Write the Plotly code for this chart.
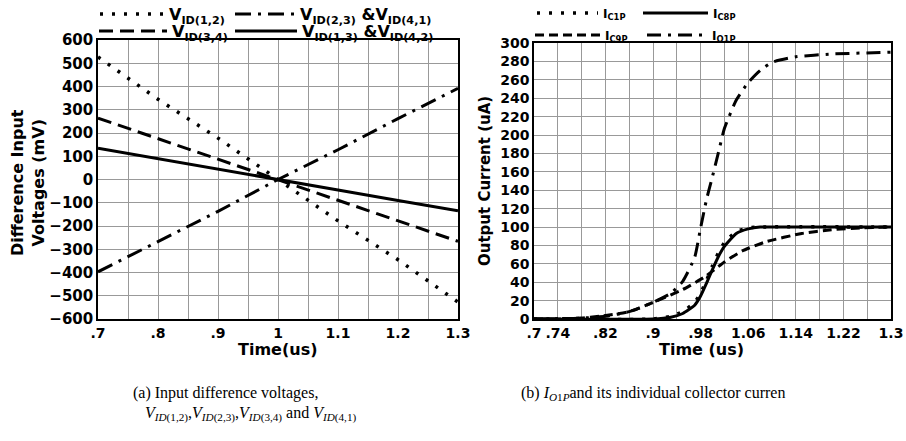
import plotly.graph_objects as go

W, H = 906, 441

# ---------------- Left panel data (a) ----------------
t_left = [0.7, 0.8, 0.9, 1.0, 1.1, 1.2, 1.3]
v_id12 = [527, 345, 178, 0, -178, -345, -527]
v_id23 = [-397, -268, -137, 0, 128, 262, 392]
v_id34 = [264, 176, 88, 0, -88, -177, -266]
v_id13 = [134, 90, 45, 0, -45, -90, -134]

left_xticks = [0.7, 0.8, 0.9, 1.0, 1.1, 1.2, 1.3]
left_xlabels = [".7", ".8", ".9", "1", "1.1", "1.2", "1.3"]
left_yticks = [-600, -500, -400, -300, -200, -100, 0, 100, 200, 300, 400, 500, 600]

# ---------------- Right panel data (b) ----------------
t_o1p = [0.7, 0.78, 0.82, 0.86, 0.9, 0.93, 0.95, 0.97, 0.98, 0.99, 1.0, 1.01, 1.02,
         1.04, 1.06, 1.08, 1.1, 1.14, 1.2, 1.3]
i_o1p = [0, 1, 3, 8, 18, 28, 41, 67, 99, 130, 155, 181, 207,
         238, 257, 270, 279, 285, 288, 290]

t_c8p = [0.7, 0.9, 0.93, 0.95, 0.97, 0.98, 0.99, 1.0, 1.01, 1.02, 1.04, 1.06, 1.08, 1.1, 1.3]
i_c8p = [0, 0, 2, 6, 15, 25, 39, 54, 68, 79, 93, 98, 100, 100, 100]

t_c1p = [0.7, 0.9, 0.93, 0.95, 0.97, 0.98, 0.99, 1.0, 1.01, 1.02, 1.04, 1.06, 1.08, 1.3]
i_c1p = [0, 0, 3, 8, 18, 28, 42, 58, 72, 83, 95, 99, 100, 100]

t_c9p = [0.7, 0.78, 0.81, 0.86, 0.9, 0.95, 0.985, 1.0, 1.02, 1.05, 1.09, 1.15, 1.2, 1.25, 1.3]
i_c9p = [0, 1, 3, 8, 18, 32, 45, 52, 62, 74, 84, 93, 97, 99, 100]

right_xticks = [0.7, 0.74, 0.82, 0.9, 0.98, 1.06, 1.14, 1.22, 1.3]
right_xlabels = [".7", ".74", ".82", ".9", ".98", "1.06", "1.14", "1.22", "1.3"]
right_yticks = [0, 20, 40, 60, 80, 100, 120, 140, 160, 180, 200, 220, 240, 260, 280, 300]

SANS = "DejaVu Sans"
SERIF = "Liberation Serif, Times New Roman"
GRID = "#999999"


def px(x):
    return x / W


def py(y):
    return 1 - y / H


fig = go.Figure()

# left traces
fig.add_trace(go.Scatter(x=t_left, y=v_id12, mode="lines", xaxis="x", yaxis="y",
                         name="V<sub>ID(1,2)</sub>", legend="legend",
                         line=dict(color="black", width=3.5, dash="3px,9px")))
fig.add_trace(go.Scatter(x=t_left, y=v_id23, mode="lines", xaxis="x", yaxis="y",
                         name="V<sub>ID(2,3)</sub> &V<sub>ID(4,1)</sub>", legend="legend2",
                         line=dict(color="black", width=3, dash="16px,7px,3px,7px")))
fig.add_trace(go.Scatter(x=t_left, y=v_id34, mode="lines", xaxis="x", yaxis="y",
                         name="V<sub>ID(3,4)</sub>", legend="legend3",
                         line=dict(color="black", width=3, dash="14px,7px")))
fig.add_trace(go.Scatter(x=t_left, y=v_id13, mode="lines", xaxis="x", yaxis="y",
                         name="V<sub>ID(1,3)</sub> &V<sub>ID(4,2)</sub>", legend="legend4",
                         line=dict(color="black", width=3)))

# right traces
fig.add_trace(go.Scatter(x=t_c9p, y=i_c9p, mode="lines", xaxis="x2", yaxis="y2",
                         name="I<sub>C9P</sub>", legend="legend7",
                         line=dict(color="black", width=3, dash="9px,5px",
                                   shape="spline", smoothing=0.5)))
fig.add_trace(go.Scatter(x=t_o1p, y=i_o1p, mode="lines", xaxis="x2", yaxis="y2",
                         name="I<sub>O1P</sub>", legend="legend8",
                         line=dict(color="black", width=3, dash="14px,7px,3px,7px",
                                   shape="spline", smoothing=0.5)))
fig.add_trace(go.Scatter(x=t_c8p, y=i_c8p, mode="lines", xaxis="x2", yaxis="y2",
                         name="I<sub>C8P</sub>", legend="legend6",
                         line=dict(color="black", width=3, shape="spline", smoothing=0.5)))
fig.add_trace(go.Scatter(x=t_c1p, y=i_c1p, mode="lines", xaxis="x2", yaxis="y2",
                         name="I<sub>C1P</sub>", legend="legend5",
                         line=dict(color="black", width=3.5, dash="3px,9px",
                                   shape="spline", smoothing=0.5)))


def leg(xp, yp, iw, size):
    return dict(x=px(xp), y=py(yp), xanchor="left", yanchor="middle", orientation="h",
                itemwidth=iw, bgcolor="rgba(0,0,0,0)", borderwidth=0,
                font=dict(family=SANS, size=size, color="black", weight="bold"))


axis_common = dict(showline=True, mirror=True, linecolor="black", linewidth=1.5,
                   ticks="", zeroline=False, showgrid=True, gridcolor=GRID, gridwidth=1,
                   automargin=False)

fig.update_layout(
    width=W, height=H,
    margin=dict(l=0, r=0, t=0, b=0, autoexpand=False),
    paper_bgcolor="white", plot_bgcolor="white",
    showlegend=True,
    xaxis=dict(domain=[px(98), px(458)], range=[0.7, 1.3], anchor="y",
               tickmode="array", tickvals=left_xticks, ticktext=left_xlabels,
               tickfont=dict(family=SANS, size=14, color="black", weight="bold"),
               minor=dict(tickmode="linear", tick0=0.7, dtick=0.05, showgrid=True,
                          gridcolor=GRID, gridwidth=1),
               **axis_common),
    yaxis=dict(domain=[py(319), py(40)], range=[-600, 600], anchor="x",
               tickmode="array", tickvals=left_yticks,
               tickfont=dict(family=SANS, size=15, color="black", weight="bold"),
               **axis_common),
    xaxis2=dict(domain=[px(534), px(891)], range=[0.7, 1.3], anchor="y2",
                tickmode="array", tickvals=right_xticks, ticktext=right_xlabels,
                tickfont=dict(family=SANS, size=14, color="black", weight="bold"),
                minor=dict(tickmode="linear", tick0=0.7, dtick=0.04, showgrid=True,
                           gridcolor=GRID, gridwidth=1),
                **axis_common),
    yaxis2=dict(domain=[py(319), py(43)], range=[0, 300], anchor="x2",
                tickmode="array", tickvals=right_yticks,
                tickfont=dict(family=SANS, size=14, color="black", weight="bold"),
                **axis_common),
    legend=leg(95, 14, 64, 16),
    legend2=leg(230, 14, 60, 16),
    legend3=leg(94, 31, 68, 16),
    legend4=leg(230, 31, 62, 16),
    legend5=leg(532, 13, 61, 12),
    legend6=leg(638, 13, 65, 12),
    legend7=leg(530, 35, 65, 12),
    legend8=leg(642, 35, 60, 12),
)

annos = [
    dict(text="Difference Input<br>Voltages (mV)", x=px(28), y=py(183), textangle=-90,
         font=dict(family=SANS, size=16, color="black", weight="bold")),
    dict(text="Output Current (uA)", x=px(485), y=py(181), textangle=-90,
         font=dict(family=SANS, size=15, color="black", weight="bold")),
    dict(text="Time(us)", x=px(277), y=py(349),
         font=dict(family=SANS, size=16, color="black", weight="bold")),
    dict(text="Time (us)", x=px(701), y=py(349),
         font=dict(family=SANS, size=16, color="black", weight="bold")),
]
for a in annos:
    fig.add_annotation(xref="paper", yref="paper", showarrow=False,
                       xanchor="center", yanchor="middle", **a)

cap_font = dict(family=SERIF, size=16, color="black")
fig.add_annotation(xref="paper", yref="paper", showarrow=False, xanchor="left", yanchor="middle",
                   x=px(131), y=py(393), text="(a) Input difference voltages,", font=cap_font)
fig.add_annotation(xref="paper", yref="paper", showarrow=False, xanchor="left", yanchor="middle",
                   x=px(143), y=py(414),
                   text="<i>V</i><sub><i>ID</i>(1,2)</sub>,<i>V</i><sub><i>ID</i>(2,3)</sub>,"
                        "<i>V</i><sub><i>ID</i>(3,4)</sub> and <i>V</i><sub><i>ID</i>(4,1)</sub>",
                   font=cap_font)
fig.add_annotation(xref="paper", yref="paper", showarrow=False, xanchor="left", yanchor="middle",
                   x=px(519), y=py(393),
                   text="(b) <i>I</i><sub><i>O</i>1<i>P</i></sub>and its individual collector curren",
                   font=cap_font)

fig.write_html("out.html")
